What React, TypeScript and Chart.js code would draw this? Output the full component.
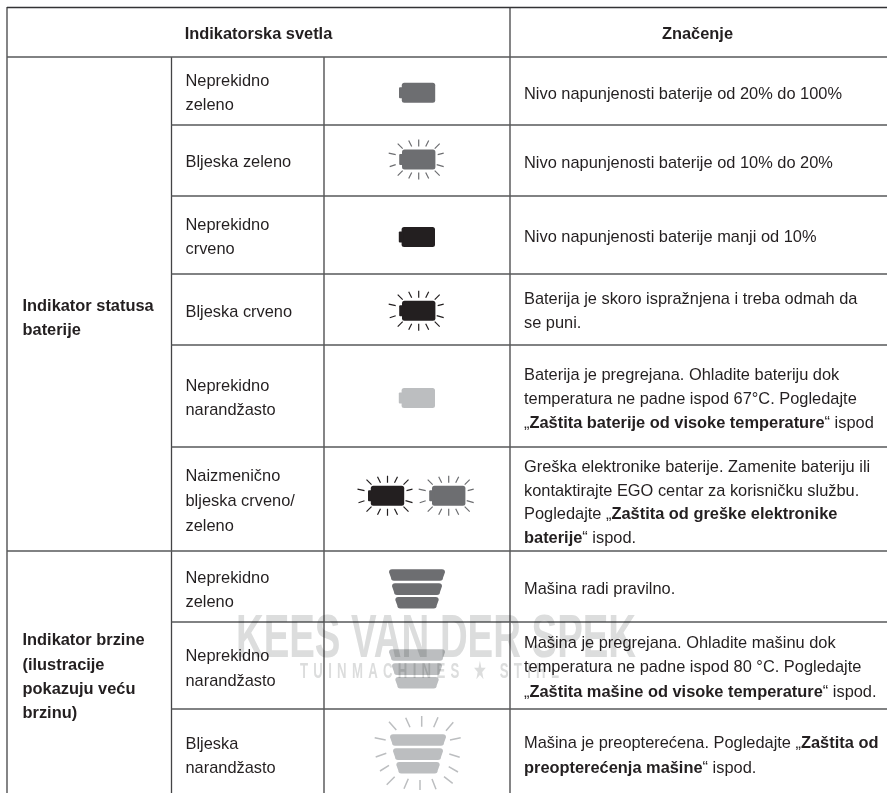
import React, { useEffect, useRef } from "react";
import { Chart, registerables } from "chart.js";

Chart.register(...registerables);

const WIDTH = 887;
const HEIGHT = 793;

const headers = ["Indikatorska svetla", "Značenje"];
const groupLabels = [
  ["Indikator statusa", "baterije"],
  ["Indikator brzine", "(ilustracije", "pokazuju veću", "brzinu)"],
];
const lightLabels = [
  ["Neprekidno", "zeleno"],
  ["Bljeska zeleno"],
  ["Neprekidno", "crveno"],
  ["Bljeska crveno"],
  ["Neprekidno", "narandžasto"],
  ["Naizmenično", "bljeska crveno/", "zeleno"],
  ["Neprekidno", "zeleno"],
  ["Neprekidno", "narandžasto"],
  ["Bljeska", "narandžasto"],
];
const meanings = [
  ["Nivo napunjenosti baterije od 20% do 100%"],
  ["Nivo napunjenosti baterije od 10% do 20%"],
  ["Nivo napunjenosti baterije manji od 10%"],
  ["Baterija je skoro ispražnjena i treba odmah da", "se puni."],
  ["Baterija je pregrejana. Ohladite bateriju dok", "temperatura ne padne ispod 67°C. Pogledajte", "„**Zaštita baterije od visoke temperature**“ ispod"],
  ["Greška elektronike baterije. Zamenite bateriju ili", "kontaktirajte EGO centar za korisničku službu.", "Pogledajte „**Zaštita od greške elektronike**", "**baterije**“ ispod."],
  ["Mašina radi pravilno."],
  ["Mašina je pregrejana. Ohladite mašinu dok", "temperatura ne padne ispod 80 °C. Pogledajte", "„**Zaštita mašine od visoke temperature**“ ispod."],
  ["Mašina je preopterećena. Pogledajte „**Zaštita od**", "**preopterećenja mašine**“ ispod."],
];
const watermarkTitle = "KEES VAN DER SPEK";
const watermarkSub = "TUINMACHINES ★ STIHL";

const rowRules = [125, 196, 274, 345, 447, 622, 709];
const fullRules = [57, 551];
const columnRules = [7, 510];
const innerColumnRules = [171.5, 324];
const lightRowY = [[81, 105.5], [162.5], [225, 249.5], [312], [386, 410.5], [476, 501, 526], [578, 602], [656.5, 681], [744, 768]];
const meaningRowY = [[94], [163], [237.5], [299.5, 323.5], [375, 399, 423], [467, 491, 514.5, 538], [589], [643.5, 667.5, 692], [743.5, 768]];
const groupY = [[306, 330], [640.7, 665, 689, 713]];

const GREY = "#6d6e71";
const BLACK = "#231f20";
const LIGHT = "#bcbec0";

// icon centre x, y, colour, flashing
const batteries: [number, number, string, boolean][] = [
  [418.5, 92.7, GREY, false],
  [418.7, 159.6, GREY, true],
  [418.3, 237, BLACK, false],
  [418.7, 310.7, BLACK, true],
  [418.3, 398, LIGHT, false],
  [387.5, 495.7, BLACK, true],
  [448.7, 495.7, GREY, true],
];
const speeds: [number, number, string, boolean][] = [
  [417, 589, GREY, false],
  [417, 669, LIGHT, false],
  [418, 754, LIGHT, true],
];

const batteryRays = [
  [-21, -16, -16, -11], [-10, -19, -7, -13], [0, -20, 0, -13], [10, -19, 7, -13], [21, -16, 16, -11],
  [19, -5, 25, -6.5], [18, 5, 25, 7],
  [21, 16, 16, 11], [10, 19, 7, 13], [0, 20, 0, 13], [-10, 19, -7, 13], [-21, 16, -16, 11],
  [-23, 5, -29, 7], [-23, -5, -30, -6.5],
];
const speedRays = [
  [-29, -32.3, -21.7, -24], [-12.3, -36.3, -8, -26.7], [3.7, -38, 3.7, -27.3], [20, -36.7, 15.7, -26.7],
  [35.3, -31.7, 28, -23.3], [32, -14, 42.7, -16.3], [31.3, 0, 41.7, 3.3], [30.7, 12.7, 40, 18],
  [26, 22.7, 34.7, 29.3], [14, 25, 18, 35.3], [2, 26, 2, 36], [-9.7, 24.7, -14, 34.7],
  [-23.3, 22.7, -31.3, 30.7], [-29, 11.3, -38, 17], [-31.7, -0.7, -42.3, 3], [-32.3, -14, -43.3, -16.3],
];

type P = { x: number; y: number } | { x: number; y: null };

function segments(list: number[][]): P[] {
  const out: P[] = [];
  for (const [a, b, c, d] of list) {
    out.push({ x: a, y: b }, { x: c, y: d }, { x: c, y: null });
  }
  return out;
}

function lineSet(data: P[], color: string, width: number) {
  return {
    type: "scatter" as const,
    data,
    showLine: true,
    spanGaps: false,
    borderColor: color,
    borderWidth: width,
    pointRadius: 0,
    tension: 0,
    clip: false,
  };
}

const FONT = '"Liberation Sans", Arial, sans-serif';
const SIZE = 16.4;

function drawRich(ctx: CanvasRenderingContext2D, line: string, x: number, y: number, allBold = false) {
  const parts = line.split("**");
  let cx = x;
  parts.forEach((p, i) => {
    if (!p) return;
    ctx.font = `${allBold || i % 2 === 1 ? "bold " : ""}${SIZE}px ${FONT}`;
    ctx.fillText(p, cx, y);
    cx += ctx.measureText(p).width;
  });
}

const tablePlugin = {
  id: "tableContent",
  afterDatasetsDraw(chart: any) {
    const ctx: CanvasRenderingContext2D = chart.ctx;
    const X = (v: number) => chart.scales.x.getPixelForValue(v);
    const Y = (v: number) => chart.scales.y.getPixelForValue(v);
    ctx.save();

    // battery shapes
    for (const [cx, cy, color] of batteries) {
      ctx.fillStyle = color;
      ctx.beginPath();
      ctx.roundRect(X(cx - 16.7), Y(cy - 10), 33.4, 20, 2.5);
      ctx.fill();
      ctx.beginPath();
      ctx.roundRect(X(cx - 19.5), Y(cy - 5.5), 5, 11, 1);
      ctx.fill();
    }

    // speed shapes
    for (const [cx, cy, color] of speeds) {
      ctx.fillStyle = color;
      const bars = [[-19.8, 28, 26], [-5.7, 25, 23], [8, 21.7, 19.7]];
      for (const [dy, top, bottom] of bars) {
        const y0 = Y(cy + dy);
        const y1 = y0 + 11.6;
        const r = 3;
        ctx.beginPath();
        ctx.moveTo(X(cx - top) + r, y0);
        ctx.lineTo(X(cx + top) - r, y0);
        ctx.quadraticCurveTo(X(cx + top), y0, X(cx + top), y0 + r);
        ctx.lineTo(X(cx + bottom), y1 - r);
        ctx.quadraticCurveTo(X(cx + bottom), y1, X(cx + bottom) - r, y1);
        ctx.lineTo(X(cx - bottom) + r, y1);
        ctx.quadraticCurveTo(X(cx - bottom), y1, X(cx - bottom), y1 - r);
        ctx.lineTo(X(cx - top), y0 + r);
        ctx.quadraticCurveTo(X(cx - top), y0, X(cx - top) + r, y0);
        ctx.closePath();
        ctx.fill();
      }
    }

    // text
    ctx.fillStyle = BLACK;
    ctx.textBaseline = "middle";
    ctx.textAlign = "left";
    ctx.font = `bold ${SIZE}px ${FONT}`;
    const hw0 = ctx.measureText(headers[0]).width;
    const hw1 = ctx.measureText(headers[1]).width;
    ctx.fillText(headers[0], X(258.5) - hw0 / 2, Y(34.5));
    ctx.fillText(headers[1], X(697.5) - hw1 / 2, Y(34.5));
    groupLabels.forEach((lines, i) =>
      lines.forEach((l, j) => drawRich(ctx, l, X(22.5), Y(groupY[i][j]), true))
    );
    lightLabels.forEach((lines, i) =>
      lines.forEach((l, j) => drawRich(ctx, l, X(185.5), Y(lightRowY[i][j])))
    );
    meanings.forEach((lines, i) =>
      lines.forEach((l, j) => drawRich(ctx, l, X(524), Y(meaningRowY[i][j])))
    );

    // watermark, multiplied over everything
    ctx.globalCompositeOperation = "multiply";
    ctx.fillStyle = "#dcdddd";
    ctx.textBaseline = "alphabetic";
    ctx.save();
    ctx.font = `bold 62px ${FONT}`;
    const tw = ctx.measureText(watermarkTitle).width;
    ctx.translate(X(236), Y(657));
    ctx.scale(400 / tw, 1);
    ctx.fillText(watermarkTitle, 0, 0);
    ctx.restore();
    ctx.save();
    ctx.font = `bold 22px ${FONT}`;
    (ctx as any).letterSpacing = "8.8px";
    ctx.translate(X(300), Y(678));
    ctx.scale(0.6, 1);
    ctx.fillText(watermarkSub, 0, 0);
    (ctx as any).letterSpacing = "0px";
    ctx.restore();
    ctx.restore();
  },
};

export default function App() {
  const ref = useRef<HTMLCanvasElement>(null);
  useEffect(() => {
    document.body.style.margin = "0";
    document.body.style.background = "#ffffff";
    const rays = (icons: [number, number, string, boolean][], color: string, offsets: number[][]) =>
      icons
        .filter((b) => b[3] && b[2] === color)
        .flatMap(([cx, cy]) => segments(offsets.map(([a, b, c, d]) => [cx + a, cy + b, cx + c, cy + d])));
    const chart = new Chart(ref.current!, {
      type: "scatter",
      data: {
        datasets: [
          lineSet(segments([[7, 7.5, WIDTH, 7.5]]), "#333335", 1.4),
          lineSet(segments(fullRules.map((y) => [7, y, WIDTH, y])), "#58595b", 1.5),
          lineSet(segments(rowRules.map((y) => [171.5, y, WIDTH, y])), "#58595b", 1.3),
          lineSet(segments(columnRules.map((x) => [x, 7, x, HEIGHT])), "#444446", 1.3),
          lineSet(segments(innerColumnRules.map((x) => [x, 57, x, HEIGHT])), "#444446", 1.3),
          lineSet(rays(batteries, GREY, batteryRays), GREY, 1.2),
          lineSet(rays(batteries, BLACK, batteryRays), BLACK, 1.2),
          lineSet(rays(speeds, LIGHT, speedRays), LIGHT, 1.5),
        ] as any,
      },
      options: {
        responsive: false,
        animation: false,
        layout: { padding: 0 },
        plugins: { legend: { display: false }, tooltip: { enabled: false } },
        scales: {
          x: { type: "linear", min: 0, max: WIDTH, display: false },
          y: { type: "linear", min: 0, max: HEIGHT, reverse: true, display: false },
        },
      },
      plugins: [tablePlugin],
    });
    return () => chart.destroy();
  }, []);
  return (
    <canvas
      ref={ref}
      width={WIDTH}
      height={HEIGHT}
      style={{ display: "block", width: WIDTH, height: HEIGHT, background: "#ffffff" }}
    />
  );
}
